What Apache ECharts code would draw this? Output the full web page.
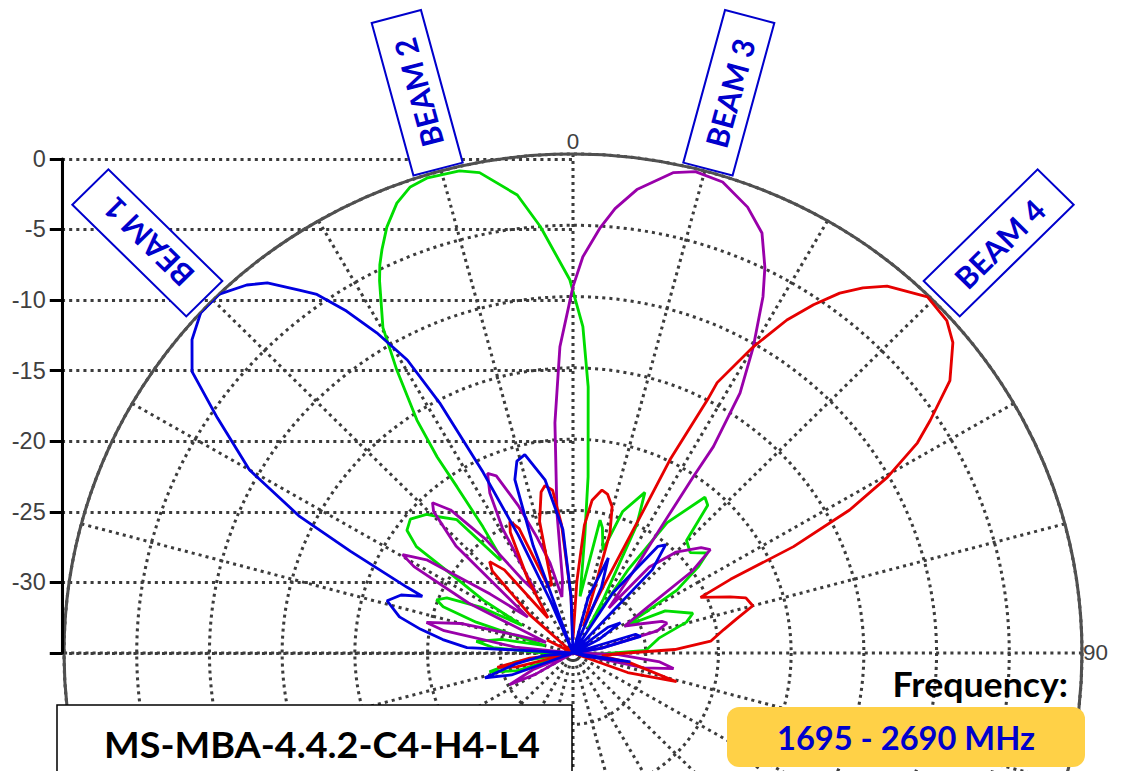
<!DOCTYPE html>
<html>
<head>
<meta charset="utf-8">
<script src="https://cdn.jsdelivr.net/npm/echarts@6.0.0/dist/echarts.min.js"></script>
<style>html,body{margin:0;padding:0;background:#fff;overflow:hidden;}</style>
</head>
<body>
<!-- the source plot is a little wider than tall, so the chart is stretched sideways by SX -->
<div id="main" style="width:1121px;height:771px;transform:scaleX(1.02);transform-origin:573px 0;"></div>
<script type="text/javascript">
// [azimuth deg, gain dB], 0 = boresight, -35 = centre of the plot
var beam1 = [[-115,-35],[-110,-30.5],[-106,-28.7],[-101,-31],[-95,-33],[-89,-35],[-87,-27.7],[-84,-26],[-81,-24.4],[-78,-22.8],[-74,-21.7],[-71,-22.5],[-69,-23.9],[-68,-22.7],[-65,-18.1],[-63,-13.9],[-60,-9.3],[-56,-5.5],[-53,-2.2],[-50,-0.8],[-47,0],[-44,0],[-41,-0.8],[-39,-1.6],[-36.4,-3.4],[-35,-4.3],[-33,-6.4],[-31,-8.8],[-29,-11.5],[-27.6,-15.2],[-26,-20.9],[-24.5,-25.9],[-23,-31],[-21.5,-35],[-20,-27],[-18.2,-22.2],[-16,-21],[-13.4,-20.7],[-9,-22.7],[-4.6,-26.3],[-2,-31],[0,-35],[5,-35],[15,-31],[20,-27.9],[23,-30],[27,-35],[33,-30],[38,-25.5],[40,-25.1],[43,-27],[48,-35],[53,-32],[57,-31.1],[62,-33],[68,-35],[73,-30.5],[76,-30.2],[80,-33],[90,-35],[99,-31],[105,-34],[110,-35]];
var beam2 = [[-115,-35],[-108,-31],[-103,-29.1],[-99,-31],[-95,-35],[-90,-33],[-86,-29.5],[-83,-28.3],[-79,-30],[-75,-33],[-72,-28],[-70,-25.5],[-68.3,-24.9],[-66,-25.5],[-63,-28],[-61,-31],[-59,-27.8],[-56.5,-24.85],[-55.3,-21.9],[-53,-20.7],[-50,-20.4],[-46,-21],[-44.4,-21.6],[-40.5,-22.7],[-37.5,-26.8],[-36.5,-26.6],[-35,-24.2],[-34.4,-20.9],[-34.2,-18.4],[-33.3,-15.45],[-31.4,-11.75],[-29.8,-8.7],[-27,-5.7],[-26,-4.7],[-24.9,-3.8],[-23.2,-2.5],[-21,-1.2],[-18.9,-0.45],[-16.7,-0.2],[-13,-0.3],[-10.8,-0.7],[-6.8,-2.65],[-4.3,-5],[-0.5,-8.8],[1.7,-12.1],[3.2,-16.3],[4.8,-22.6],[5.6,-26.6],[7,-31],[8.5,-30],[11.3,-25.5],[13,-26],[15.9,-27.5],[19,-24.5],[23.7,-22.7],[26,-25],[29,-30.7],[31,-33],[33,-28],[35.3,-23.8],[39.7,-20.8],[41.8,-21.1],[44.7,-23.9],[48.9,-24.3],[52.8,-23.4],[55,-24.5],[58.3,-26.6],[60,-29],[62,-31],[65,-28],[71.3,-26.3],[74.5,-26.9],[80,-29],[88,-30],[92,-33],[100,-35]];
var beam3 = [[-125,-35],[-120,-32],[-117,-30.1],[-113,-32],[-108,-35],[-88,-35],[-84,-31],[-80,-26],[-78,-24.7],[-75,-27],[-72,-31],[-68,-33],[-64,-27],[-61,-22.5],[-59.5,-21.4],[-57,-23],[-54,-28],[-51,-31],[-47,-24],[-44,-21.2],[-42.5,-20.7],[-40,-21.9],[-37,-25],[-34,-28.8],[-31,-30],[-29,-25],[-27,-22.4],[-25,-21.1],[-23,-21.5],[-20,-24],[-17,-26.5],[-14,-28.5],[-11,-31],[-8,-29.8],[-6.4,-25.1],[-4.4,-18.8],[-2.4,-13.5],[0,-9.3],[1.4,-7.2],[3.6,-5.1],[5.3,-3.7],[7.7,-2.2],[11.6,-0.6],[14,-0.2],[17.3,-0.4],[21,-1.5],[23.8,-2.8],[26,-4.9],[27.6,-6.8],[30,-10.2],[32.2,-13.45],[33.7,-17.6],[33.8,-20.15],[34.5,-24.5],[36,-28],[38,-31],[41,-27],[45,-25],[50,-23.5],[52.5,-23.1],[55,-25],[58,-29],[62,-31],[66,-30],[70,-28.5],[72,-28.2],[75,-29],[80,-33],[85,-35],[92,-32],[96,-29],[99,-28],[102,-30],[106,-35]];
var beam4 = [[-110,-35],[-104,-31],[-101,-29.7],[-97,-32],[-92,-35],[-68,-35],[-63,-33],[-58,-35],[-48,-31],[-44,-27],[-41.8,-26.4],[-39,-27.5],[-35,-32],[-31,-29],[-27,-25.5],[-25.2,-24.8],[-23,-25.5],[-20,-30],[-17,-30],[-14,-25.5],[-11,-23.5],[-9.3,-23.1],[-7,-23.5],[-5,-26],[-2,-31],[0,-34],[3,-30],[5,-26],[7,-24.2],[9.9,-23.4],[12,-23.6],[14.7,-24.4],[16.8,-26.2],[18,-30],[21,-33],[24,-30],[25.8,-24.4],[26.2,-19.9],[27.5,-15],[27.6,-13.6],[30,-10.2],[32.2,-7.4],[34.1,-5.5],[36,-3.8],[37.9,-2.55],[40,-1.4],[44.3,-0.1],[47.8,-0.3],[50.2,-1],[53.6,-2.8],[56.4,-5.5],[58.1,-7.1],[60.3,-10.1],[62.2,-13.5],[63.8,-18.1],[64.5,-23],[66,-25.4],[70,-23.5],[72,-22.5],[75,-22.2],[78,-23.5],[81,-24.5],[85,-25.5],[88,-28],[91,-32],[96,-33],[100,-31],[105.8,-27.6],[110,-31],[115,-35]];

var beamNames = ['BEAM 1', 'BEAM 2', 'BEAM 3', 'BEAM 4'];
var beamAzimuth = [-45, -15, 15, 45];
var beamColors = ['#0000e0', '#00dd00', '#9900aa', '#e60000'];
var dbTicks = [0, -5, -10, -15, -20, -25, -30];
var FLOOR = -35;

var SX = 1.02;
var cx = 573, cy = 653, R = 499;
var gridLine = {color: '#3c3c3c', width: 3, type: [3, 4]};

// page x -> chart x (undo the sideways stretch)
function fx(x) { return cx + (x - cx) / SX; }

function toPolar(list) {
	return list.map(function (p) { return [Math.max(p[1], FLOOR), p[0]]; });
}

var myChart = echarts.init(document.getElementById('main'), null, {renderer: 'svg'});

// beam label boxes, pointing out along each beam direction
var graphics = beamAzimuth.map(function (a, i) {
	var rad = a * Math.PI / 180;
	return {
		type: 'group',
		x: fx(cx + 602 * Math.sin(rad)),
		y: cy - 580 * Math.cos(rad),
		rotation: (90 - a) * Math.PI / 180,
		z: 100,
		children: [
			{type: 'rect', z: 100, shape: {x: -79, y: -25, width: 158, height: 50},
				style: {fill: '#fff', stroke: '#0000cc', lineWidth: 2}},
			{type: 'text', z: 101, style: {text: beamNames[i], x: 0, y: 1, align: 'center', verticalAlign: 'middle',
				font: 'bold 30px Lato', fill: '#0000cc'}}
		]
	};
});

graphics.push(
	{type: 'rect', z: 100, shape: {x: fx(57), y: 705, width: 515 / SX, height: 90},
		style: {fill: '#fff', stroke: '#000', lineWidth: 1.5}},
	{type: 'text', z: 101, style: {text: 'MS-MBA-4.4.2-C4-H4-L4', x: fx(322), y: 744, align: 'center', verticalAlign: 'middle',
		font: 'bold 37px Lato', fill: '#000'}},
	{type: 'text', z: 101, style: {text: 'Frequency:', x: fx(1068), y: 684, align: 'right', verticalAlign: 'middle',
		font: 'bold 35px Lato', fill: '#000'}},
	{type: 'rect', z: 100, shape: {x: fx(727), y: 707, width: 358 / SX, height: 60, r: 12},
		style: {fill: '#ffd147'}},
	{type: 'text', z: 101, style: {text: '1695 - 2690 MHz', x: fx(906), y: 738, align: 'center', verticalAlign: 'middle',
		font: 'bold 32px Lato', fill: '#0000cc'}}
);

var order = [1, 2, 3, 0];
var beams = [beam1, beam2, beam3, beam4];

myChart.setOption({
	animation: false,
	grid: {left: fx(62), right: 1121 - cx, top: 159, bottom: 771 - cy},
	xAxis: {type: 'value', show: false, min: 0, max: 1},
	yAxis: {
		type: 'value', min: -35, max: 0, interval: 5,
		axisLine: {show: true, lineStyle: {color: '#000', width: 3}},
		axisTick: {show: true, length: 12, lineStyle: {color: '#000', width: 3}},
		axisLabel: {color: '#404040', fontSize: 23, fontFamily: 'Liberation Sans', margin: 16,
			formatter: function (v) { return dbTicks.indexOf(v) >= 0 ? String(v) : ''; }},
		splitLine: {show: true, lineStyle: gridLine}
	},
	polar: {center: [cx, cy], radius: R},
	angleAxis: {
		type: 'value', min: -180, max: 180, interval: 15, startAngle: 270, clockwise: true,
		axisLine: {show: true, lineStyle: {color: '#505050', width: 3}},
		axisTick: {show: false},
		axisLabel: {color: '#404040', fontSize: 22, fontFamily: 'Liberation Sans', margin: 1,
			formatter: function (v) { return v === 0 ? '0' : (v === 90 ? '90' : ''); }},
		splitLine: {show: true, lineStyle: gridLine}
	},
	radiusAxis: {
		type: 'value', min: -35, max: 0, interval: 5,
		axisLine: {show: false}, axisTick: {show: false}, axisLabel: {show: false},
		splitLine: {show: true, lineStyle: gridLine}
	},
	graphic: graphics,
	series: order.map(function (i) {
		return {
			name: beamNames[i],
			type: 'line',
			coordinateSystem: 'polar',
			showSymbol: false,
			lineStyle: {color: beamColors[i], width: 2.8},
			data: toPolar(beams[i])
		};
	})
});
</script>
</body>
</html>
